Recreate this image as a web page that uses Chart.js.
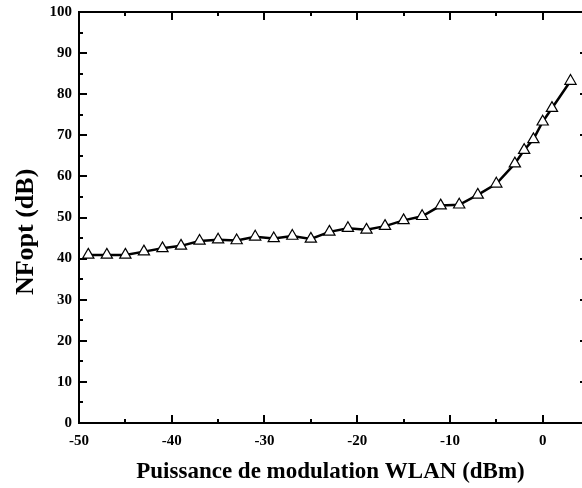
<!DOCTYPE html>
<html>
<head>
<meta charset="utf-8">
<script src="https://cdn.jsdelivr.net/npm/chart.js@4/dist/chart.umd.min.js"></script>
<style>
  html, body { margin: 0; padding: 0; background: #fff; overflow: hidden; }
  #wrap { width: 582px; height: 488px; }
</style>
</head>
<body>
<div id="wrap"><canvas id="nfChart"></canvas></div>
<script>
// WLAN modulation power (dBm) vs NFopt (dB)
const powerDbm = [-49, -47, -45, -43, -41, -39, -37, -35, -33, -31, -29, -27, -25,
                  -23, -21, -19, -17, -15, -13, -11, -9, -7, -5, -3, -2, -1, 0, 1, 3];
const nfoptDb = [40.9, 40.9, 40.9, 41.7, 42.5, 43.1, 44.3, 44.6, 44.4, 45.3, 44.9, 45.5, 44.8,
                 46.5, 47.4, 47.0, 47.9, 49.3, 50.3, 52.9, 53.1, 55.5, 58.2, 63.1, 66.4, 69.0, 73.3, 76.6, 83.2];
const xTickValues = [-50, -40, -30, -20, -10, 0];

const xTitle = 'Puissance de modulation WLAN (dBm)';
const yTitle = 'NFopt (dB)';

const serif = '"Liberation Serif", "Times New Roman", serif';

// frame (right edge runs off the canvas) with inward major/minor ticks, and the y title
const frameTicks = {
  id: 'frameTicks',
  afterDraw(chart) {
    const { ctx, chartArea: a, scales: { x, y } } = chart;
    ctx.save();
    ctx.strokeStyle = '#000';
    ctx.lineWidth = 2;
    ctx.beginPath();
    ctx.moveTo(chart.width + 2, a.top);
    ctx.lineTo(a.left, a.top);
    ctx.lineTo(a.left, a.bottom);
    ctx.lineTo(chart.width + 2, a.bottom);
    ctx.stroke();
    ctx.beginPath();
    for (let v = -50; v <= x.max; v += 5) {
      const px = Math.round(x.getPixelForValue(v));
      const len = v % 10 === 0 ? 8 : 4;
      ctx.moveTo(px, a.bottom); ctx.lineTo(px, a.bottom - len);
      ctx.moveTo(px, a.top); ctx.lineTo(px, a.top + len);
    }
    for (let v = 0; v <= 100; v += 10) {
      const py = Math.round(y.getPixelForValue(v));
      ctx.moveTo(a.left, py); ctx.lineTo(a.left + 8, py);
      ctx.moveTo(a.right + 1, py); ctx.lineTo(a.right - 2, py);
      if (v < 100) {
        const pm = Math.round(y.getPixelForValue(v + 5));
        ctx.moveTo(a.left, pm); ctx.lineTo(a.left + 4, pm);
      }
    }
    ctx.stroke();

    // y title sits a little below the middle of the axis
    ctx.translate(26, y.getPixelForValue(46.5));
    ctx.rotate(-Math.PI / 2);
    ctx.fillStyle = '#000';
    ctx.font = 'bold 26px ' + serif;
    ctx.textAlign = 'center';
    ctx.textBaseline = 'middle';
    ctx.fillText(yTitle, 0, 0);
    ctx.restore();
  }
};

new Chart(document.getElementById('nfChart'), {
  type: 'line',
  data: {
    datasets: [{
      data: powerDbm.map((p, i) => ({ x: p, y: nfoptDb[i] })),
      borderColor: '#000',
      borderWidth: 2.5,
      pointStyle: 'triangle',
      pointRadius: 6.5,
      pointBackgroundColor: '#fff',
      pointBorderColor: '#000',
      pointBorderWidth: 1.2,
      tension: 0,
      fill: false,
      clip: false
    }]
  },
  options: {
    responsive: true,
    maintainAspectRatio: false,
    animation: false,
    layout: { autoPadding: false, padding: { top: 12, right: 0, left: 0, bottom: 0 } },
    plugins: { legend: { display: false }, tooltip: { enabled: false } },
    scales: {
      x: {
        type: 'linear',
        min: -50,
        max: 4.24,
        afterFit(s) { s.height = 65; s.paddingLeft = 0; s.paddingRight = 0; },
        afterBuildTicks(s) {
          s.ticks = xTickValues.map(v => ({ value: v }));
        },
        grid: { display: false, drawTicks: false },
        border: { display: false },
        ticks: {
          color: '#000',
          padding: 9,
          maxRotation: 0,
          font: { family: serif, size: 15, weight: 'bold' }
        },
        title: {
          display: true,
          text: xTitle,
          color: '#000',
          padding: { top: 0, bottom: 2 },
          font: { family: serif, size: 23, weight: 'bold' }
        }
      },
      y: {
        min: 0,
        max: 100,
        afterFit(s) { s.width = 79; s.paddingTop = 0; s.paddingBottom = 0; },
        grid: { display: false, drawTicks: false },
        border: { display: false },
        ticks: {
          stepSize: 10,
          color: '#000',
          padding: 7,
          font: { family: serif, size: 15, weight: 'bold' }
        }
      }
    }
  },
  plugins: [frameTicks]
});
</script>
</body>
</html>
